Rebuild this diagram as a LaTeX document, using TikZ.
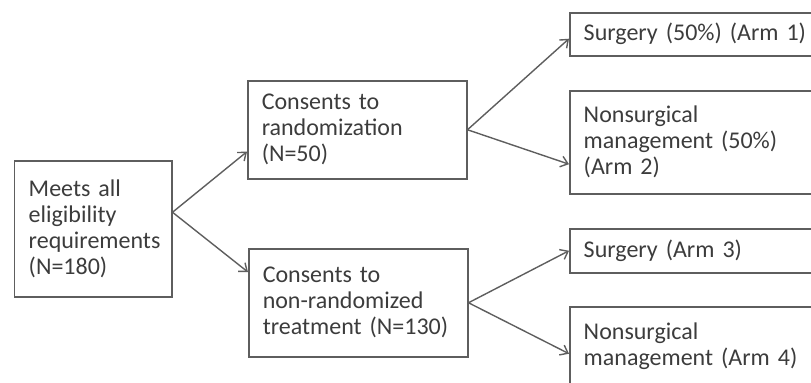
\documentclass[tikz,border=0pt]{standalone}
\usepackage{fontspec}
\setmainfont{Carlito}[WordSpace=0.75]
\usepackage{xcolor}
\usetikzlibrary{arrows.meta,calc}
\definecolor{boxline}{HTML}{5E5E5E}
\definecolor{boxtext}{HTML}{3C3C3C}
\tikzset{
    stagebox/.style={draw=boxline, line width=.75pt, rectangle, anchor=north west,
        align=left, inner xsep=7pt, inner ysep=0pt, text=boxtext,
        font=\fontsize{12}{13}\selectfont},
    link/.style={draw=boxline, line width=.7pt,
        -{Straight Barb[length=3.5pt,width=5.5pt]}}
}

\begin{document}
\begin{tikzpicture}[x=.5pt,y=-.5pt]

                % Fix the frame.
                \useasboundingbox (0,0) rectangle (811,382);
                \clip (0,0) rectangle (811,382);

                % Draw boxes.
                \node[stagebox, minimum width=78.5pt, minimum height=68pt, text width=64.5pt]
                    (meets) at (14,160) {Meets all\\eligibility\\requirements\\(N=180)\\[-5pt]};
                \node[stagebox, minimum width=109.5pt, minimum height=49pt, text width=95.5pt]
                    (rand) at (247,80) {Consents to\\randomization\\(N=50)};
                \node[stagebox, minimum width=109.5pt, minimum height=54pt, text width=95.5pt]
                    (nonrand) at (248,248) {Consents to\\non-randomized\\treatment (N=130)};

                \node[stagebox, minimum width=135pt, minimum height=21.5pt, text width=121pt]
                    (armA) at (569,12) {Surgery (50\%) (Arm 1)};
                \node[stagebox, minimum width=135pt, minimum height=51.5pt, text width=121pt]
                    (armB) at (569,90) {Nonsurgical\\management (50\%)\\(Arm 2)};
                \node[stagebox, minimum width=135pt, minimum height=22pt, text width=121pt]
                    (armC) at (569,228) {Surgery (Arm 3)};
                \node[stagebox, minimum width=135pt, minimum height=39pt, text width=121pt]
                    (armD) at (569,306) {Nonsurgical\\management (Arm 4)};

                % Connect boxes.
                \draw[link] ($ (meets.north east)!.38!(meets.south east) $)
                    -- ($ (rand.north west)!.72!(rand.south west) $);
                \draw[link] ($ (meets.north east)!.38!(meets.south east) $)
                    -- ($ (nonrand.north west)!.22!(nonrand.south west) $);

                \draw[link] (rand.east) -- ($ (armA.north west)!.6!(armA.south west) $);
                \draw[link] (rand.east) -- ($ (armB.north west)!.71!(armB.south west) $);
                \draw[link] (nonrand.east) -- (armC.west);
                \draw[link] (nonrand.east) -- ($ (armD.north west)!.6!(armD.south west) $);
                \end{tikzpicture}
\end{document}
